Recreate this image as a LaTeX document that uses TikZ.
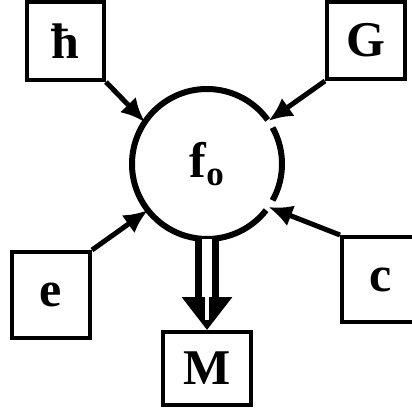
\documentclass[tikz,border=0pt]{standalone}
\usepackage{fontspec}
\setmainfont{Liberation Serif}
\usetikzlibrary{positioning, arrows.meta}
\tikzset{
box/.style={
  draw, 
  rectangle, 
  line width=4pt,
  inner sep=0pt,
  minimum height=78pt, 
  minimum width=78pt, 
  font=\fontsize{50}{50}\selectfont\bfseries
  }, 
ring/.style={line width=6pt},
line/.style={-{Latex[length=24pt,width=22pt]}, line width=5pt},
dblline/.style={-{Triangle[length=33pt,width=49pt]}, line width=7pt, double distance=10pt},
slit/.style={white, line width=4pt}
}

\begin{document}
\begin{tikzpicture}[x=1pt, y=1pt, node distance=1cm, on grid]
\useasboundingbox (0,0) rectangle (412,410);

\node[circle, minimum size=150pt, inner sep=0pt, outer sep=0pt, font=\fontsize{50}{50}\selectfont\bfseries]	(fo)	at (207,246)	{f\textsubscript{o}};
\node[box, minimum width=77pt]	(hbar)	[above left=123pt and 141.5pt of fo]	{ħ};
\node[box, minimum height=77pt]	(G)	[above right=123.5pt and 159pt of fo]	{G};
\node[box, minimum height=86pt]	(e)	[below left=131pt and 156pt of fo]	{e};
\node[box, minimum height=85pt]	(c)	[below right=115.5pt and 174pt of fo]	{c};
\node[box, minimum width=88pt, minimum height=73pt]	(M)	[below=204.5pt of fo]	{M};

\draw[ring] (fo.36) arc[start angle=36, end angle=322, radius=75pt];
\draw[ring] (fo.-29) arc[start angle=-29, end angle=29, radius=75pt];

\draw[line] (hbar.south east) -- (fo.146);
\draw[line] (G.south west) -- (fo.35);
\draw[line] (e.north east) -- (fo.218);
\draw[line] (c.north west) -- (fo.325);
\draw[dblline] (fo.south) -- (M.north);
\draw[slit] ([yshift=35pt]M.north) -- ([yshift=10pt]M.north);
\end{tikzpicture}
\end{document}
